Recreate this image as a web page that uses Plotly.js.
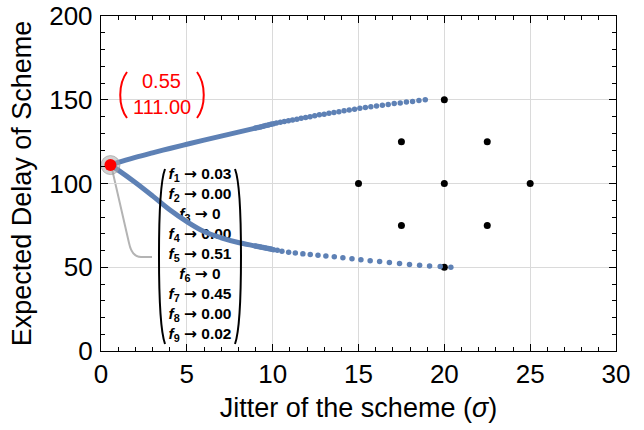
<!DOCTYPE html>
<html>
<head>
<meta charset="utf-8">
<script src="https://cdn.plot.ly/plotly-3.0.1.min.js"></script>
<style>html,body{margin:0;padding:0;background:#fff;}#chart{width:644px;height:430px;}</style>
</head>
<body>
<div id="chart"></div>
<script>
// ---- data ----
const optimumPoint = [0.55, 111.00];

const upperDenseX = [0.55, 1, 2, 3, 4, 5, 6, 7, 8, 9, 10];
const upperDenseY = [111.0, 112.6, 115.6, 118.3, 120.9, 123.4, 125.9, 128.3, 130.7, 133.1, 135.6];
const upperDotsX = [9.0, 9.15, 9.3, 9.45, 9.6, 9.75, 9.9, 10.05, 10.22, 10.45, 10.68, 10.92, 11.16, 11.41, 11.66, 11.92, 12.18, 12.45, 12.72, 13.0, 13.28, 13.57, 13.86, 14.16, 14.46, 14.77, 15.08, 15.4, 15.72, 16.05, 16.39, 16.73, 17.08, 17.43, 17.79, 18.15, 18.52, 18.89];
const upperDotsY = [133.1, 133.5, 133.8, 134.2, 134.6, 134.9, 135.3, 135.7, 136.1, 136.5, 137.0, 137.4, 137.9, 138.4, 138.9, 139.4, 139.9, 140.5, 141.0, 141.4, 141.9, 142.4, 142.9, 143.4, 143.9, 144.4, 144.9, 145.4, 145.8, 146.3, 146.7, 147.2, 147.7, 148.1, 148.6, 149.0, 149.5, 150.0];

const lowerDenseX = [0.55, 1, 2, 3, 4, 5, 6, 7, 8, 9, 10];
const lowerDenseY = [111.0, 108.0, 100.6, 92.6, 84.3, 77.2, 71.3, 67.6, 64.8, 62.7, 60.6];
const lowerDotsX = [9.0, 9.15, 9.3, 9.45, 9.6, 9.75, 9.9, 10.05, 10.27, 10.54, 10.93, 11.32, 11.76, 12.19, 12.64, 13.1, 13.59, 14.09, 14.62, 15.14, 15.68, 16.23, 16.8, 17.39, 17.97, 18.56, 19.14, 19.76, 20.38];
const lowerDotsY = [62.7, 62.4, 62.1, 61.8, 61.5, 61.2, 60.9, 60.5, 60.1, 59.6, 58.9, 58.5, 58.0, 57.6, 57.2, 56.7, 56.2, 55.7, 55.1, 54.5, 53.9, 53.4, 52.8, 52.2, 51.7, 51.2, 50.8, 50.4, 50.0];

const gridPointsX = [20, 17.5, 22.5, 15, 20, 25, 17.5, 22.5, 20];
const gridPointsY = [150, 125, 125, 100, 100, 100, 75, 75, 50];

const fIndex = [1, 2, 3, 4, 5, 6, 7, 8, 9];
const fValues = ["0.03", "0.00", "0", "0.00", "0.51", "0", "0.45", "0.00", "0.02"];

const xTicks = [0, 5, 10, 15, 20, 25, 30];
const yTicks = [0, 50, 100, 150, 200];

// ---- layout helpers ----
const W = 644, H = 430;
const M = {l: 101, r: 28, t: 16, b: 79};
const PW = W - M.l - M.r, PH = H - M.t - M.b;
const XR = [0, 30], YR = [0, 200];
const px2x = p => XR[0] + (p - M.l) / PW * (XR[1] - XR[0]);
const py2y = p => YR[0] + (H - M.b - p) / PH * (YR[1] - YR[0]);
const pX = p => (p - M.l) / PW;          // pixel -> paper x
const pY = p => (H - M.b - p) / PH;      // pixel -> paper y
const path = pts => pts.map(s => s[0] + ' ' + s.slice(1).map(q => pX(q[0]).toFixed(4) + ',' + pY(q[1]).toFixed(4)).join(' ')).join(' ');

const BLUE = 'rgb(94,129,181)';
const FONT = 'Liberation Sans, Arial, sans-serif';

// f-list text positions (label layout, not data)
const listCenterPx = 200, listTopPx = 175, listStepPx = 20;
const ARROW = '<span style="font-family:DejaVu Sans;font-weight:bold">\u2192</span>';
const fText = fIndex.map((k, i) => '<b><i>f</i><sub>' + k + '</sub> ' + ARROW + ' ' + fValues[i] + '</b>');
const fX = fIndex.map(() => px2x(listCenterPx));
const fY = fIndex.map((k, i) => py2y(listTopPx + i * listStepPx));

const traces = [
  {x: fX, y: fY, mode: 'text', text: fText, textposition: 'middle center',
   textfont: {family: FONT, size: 15.5, color: '#000'}, cliponaxis: false, hoverinfo: 'skip', showlegend: false},
  {x: gridPointsX, y: gridPointsY, mode: 'markers', marker: {color: '#000', size: 7}, showlegend: false},
  {x: upperDenseX, y: upperDenseY, mode: 'lines', line: {color: BLUE, width: 5, shape: 'spline'}, showlegend: false},
  {x: upperDotsX, y: upperDotsY, mode: 'markers', marker: {color: BLUE, size: 5.5}, showlegend: false},
  {x: lowerDenseX, y: lowerDenseY, mode: 'lines', line: {color: BLUE, width: 5, shape: 'spline'}, showlegend: false},
  {x: lowerDotsX, y: lowerDotsY, mode: 'markers', marker: {color: BLUE, size: 5.5}, showlegend: false},
  {x: [optimumPoint[0]], y: [optimumPoint[1]], mode: 'markers', marker: {color: 'rgba(170,170,170,0.55)', size: 19, line: {color: 'rgba(150,150,150,0.6)', width: 1}}, showlegend: false, cliponaxis: false},
  {x: [optimumPoint[0]], y: [optimumPoint[1]], mode: 'markers', marker: {color: 'rgb(255,0,0)', size: 12}, showlegend: false, cliponaxis: false}
];

const axisCommon = {
  showline: true, linecolor: '#000', linewidth: 1.2, mirror: 'allticks',
  ticks: 'inside', ticklen: 7, tickwidth: 1, tickcolor: '#000',
  showgrid: true, gridcolor: '#dadada', gridwidth: 1, zeroline: false,
  tickfont: {family: FONT, size: 26, color: '#000'}, fixedrange: true, automargin: false
};

const layout = {
  width: W, height: H, margin: M, paper_bgcolor: '#fff', plot_bgcolor: '#fff',
  showlegend: false, font: {family: FONT, color: '#000'},
  xaxis: Object.assign({}, axisCommon, {
    range: XR, tickvals: xTicks, ticktext: xTicks.map(String), ticklabelstandoff: 0,
    minor: {dtick: 1, ticklen: 4, tickcolor: '#000', showgrid: false, ticks: 'inside'},
    title: {text: 'Jitter of the scheme (<i>\u03c3</i>)', font: {family: FONT, size: 27, color: '#000'}, standoff: 9}
  }),
  yaxis: Object.assign({}, axisCommon, {
    range: YR, tickvals: yTicks, ticktext: yTicks.map(String), ticklabelstandoff: 2,
    minor: {dtick: 10, ticklen: 4, tickcolor: '#000', showgrid: false, ticks: 'inside'},
    title: {text: 'Expected Delay of Scheme', font: {family: FONT, size: 27, color: '#000'}, standoff: 9}
  }),
  annotations: [
    {xref: 'paper', yref: 'paper', x: pX(161.5), y: pY(81.5), text: optimumPoint[0].toFixed(2), showarrow: false,
     xanchor: 'center', yanchor: 'middle', font: {family: FONT, size: 20, color: 'rgb(255,0,0)'}},
    {xref: 'paper', yref: 'paper', x: pX(161.5), y: pY(107), text: optimumPoint[1].toFixed(2), showarrow: false,
     xanchor: 'center', yanchor: 'middle', font: {family: FONT, size: 20, color: 'rgb(255,0,0)'}}
  ],
  shapes: [
    // callout line
    {type: 'path', xref: 'paper', yref: 'paper', layer: 'below',
     path: path([['M', [112, 169]], ['L', [129, 243]], ['Q', [132, 257], [141, 257]], ['L', [152, 257]]]),
     line: {color: 'rgb(180,180,180)', width: 2}},
    // red parentheses
    {type: 'path', xref: 'paper', yref: 'paper', path: path([['M', [127, 72]], ['C', [118, 84], [118, 106], [127, 118]]]), line: {color: 'rgb(255,0,0)', width: 2}},
    {type: 'path', xref: 'paper', yref: 'paper', path: path([['M', [197, 72]], ['C', [206, 84], [206, 106], [197, 118]]]), line: {color: 'rgb(255,0,0)', width: 2}},
    // black parentheses of f-list
    {type: 'path', xref: 'paper', yref: 'paper', path: path([['M', [165, 169]], ['C', [157, 190], [157, 322], [165, 344]]]), line: {color: '#000', width: 2}},
    {type: 'path', xref: 'paper', yref: 'paper', path: path([['M', [235, 169]], ['C', [243, 190], [243, 322], [235, 344]]]), line: {color: '#000', width: 2}}
  ]
};

Plotly.newPlot('chart', traces, layout, {displayModeBar: false, staticPlot: true});
</script>
</body>
</html>
